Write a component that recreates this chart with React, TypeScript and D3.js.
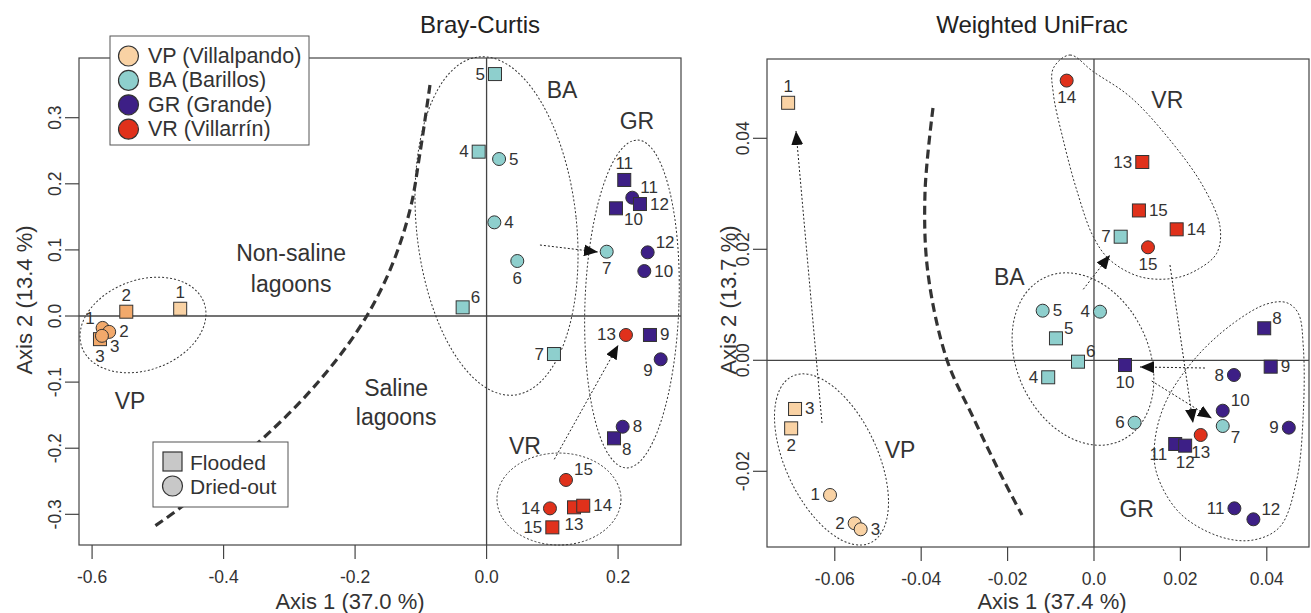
import React from "react";
import * as d3 from "d3";

const W = 1311;
const H = 613;
const FONT = "'Liberation Sans', Arial, Helvetica, sans-serif";
const INK = "#333";

const groupCodes = ["VP", "BA", "GR", "VR"];
const groupNames = ["VP (Villalpando)", "BA (Barillos)", "GR (Grande)", "VR (Villarrín)"];
const groupColors = ["#F9D2A4", "#8ECFCD", "#3D1F86", "#E0311B"];
const stateNames = ["Flooded", "Dried-out"];

// Bray-Curtis PCoA scores (sq = flooded, ci = dried-out)
const bcVP = [
  { n: 1, s: "sq", x: -0.466, y: 0.011 },
  { n: 2, s: "sq", x: -0.548, y: 0.0065 },
  { n: 3, s: "sq", x: -0.588, y: -0.035 },
  { n: 1, s: "ci", x: -0.584, y: -0.018 },
  { n: 2, s: "ci", x: -0.574, y: -0.024 },
  { n: 3, s: "ci", x: -0.585, y: -0.03 },
];
const bcBA = [
  { n: 5, s: "sq", x: 0.0128, y: 0.366 },
  { n: 4, s: "sq", x: -0.012, y: 0.2486 },
  { n: 6, s: "sq", x: -0.0364, y: 0.0131 },
  { n: 7, s: "sq", x: 0.1025, y: -0.0575 },
  { n: 5, s: "ci", x: 0.019, y: 0.2375 },
  { n: 4, s: "ci", x: 0.0118, y: 0.1417 },
  { n: 6, s: "ci", x: 0.0467, y: 0.0832 },
  { n: 7, s: "ci", x: 0.1827, y: 0.0973 },
];
const bcGR = [
  { n: 11, s: "sq", x: 0.2094, y: 0.2058 },
  { n: 10, s: "sq", x: 0.1968, y: 0.1629 },
  { n: 9, s: "sq", x: 0.2485, y: -0.0287 },
  { n: 8, s: "sq", x: 0.1938, y: -0.185 },
  { n: 11, s: "ci", x: 0.2216, y: 0.179 },
  { n: 12, s: "ci", x: 0.245, y: 0.0963 },
  { n: 10, s: "ci", x: 0.2399, y: 0.068 },
  { n: 9, s: "ci", x: 0.2648, y: -0.0655 },
  { n: 8, s: "ci", x: 0.207, y: -0.1675 },
  { n: 12, s: "sq", x: 0.2333, y: 0.1694 },
];
const bcVR = [
  { n: 13, s: "sq", x: 0.133, y: -0.2894 },
  { n: 14, s: "sq", x: 0.147, y: -0.287 },
  { n: 15, s: "sq", x: 0.1, y: -0.3197 },
  { n: 13, s: "ci", x: 0.212, y: -0.0287 },
  { n: 15, s: "ci", x: 0.1208, y: -0.248 },
  { n: 14, s: "ci", x: 0.0964, y: -0.291 },
];

// Weighted UniFrac PCoA scores
const wuVP = [
  { n: 1, s: "sq", x: -0.0708, y: 0.0464 },
  { n: 2, s: "sq", x: -0.0701, y: -0.01226 },
  { n: 3, s: "sq", x: -0.0692, y: -0.00877 },
  { n: 1, s: "ci", x: -0.0611, y: -0.02427 },
  { n: 2, s: "ci", x: -0.0554, y: -0.02937 },
  { n: 3, s: "ci", x: -0.054, y: -0.03045 },
];
const wuBA = [
  { n: 4, s: "sq", x: -0.0106, y: -0.00306 },
  { n: 5, s: "sq", x: -0.0088, y: 0.00396 },
  { n: 6, s: "sq", x: -0.0037, y: -0.00025 },
  { n: 7, s: "sq", x: 0.00618, y: 0.02227 },
  { n: 4, s: "ci", x: 0.00139, y: 0.00876 },
  { n: 5, s: "ci", x: -0.01188, y: 0.00894 },
  { n: 6, s: "ci", x: 0.0094, y: -0.01124 },
  { n: 7, s: "ci", x: 0.0298, y: -0.01184 },
];
const wuGR = [
  { n: 8, s: "sq", x: 0.0394, y: 0.00577 },
  { n: 9, s: "sq", x: 0.0409, y: -0.00115 },
  { n: 10, s: "sq", x: 0.00718, y: -0.00085 },
  { n: 11, s: "sq", x: 0.0188, y: -0.01508 },
  { n: 12, s: "sq", x: 0.0211, y: -0.01538 },
  { n: 8, s: "ci", x: 0.0324, y: -0.00265 },
  { n: 9, s: "ci", x: 0.0451, y: -0.01214 },
  { n: 10, s: "ci", x: 0.0298, y: -0.00908 },
  { n: 11, s: "ci", x: 0.0325, y: -0.02667 },
  { n: 12, s: "ci", x: 0.0369, y: -0.02865 },
];
const wuVR = [
  { n: 13, s: "sq", x: 0.01118, y: 0.03573 },
  { n: 14, s: "sq", x: 0.01914, y: 0.0236 },
  { n: 15, s: "sq", x: 0.0104, y: 0.027 },
  { n: 13, s: "ci", x: 0.0247, y: -0.01346 },
  { n: 14, s: "ci", x: -0.00632, y: 0.0504 },
  { n: 15, s: "ci", x: 0.0125, y: 0.02036 },
];

// tick values and labels
const bcXTicks = [-0.6, -0.4, -0.2, 0, 0.2];
const bcXLabels = ["-0.6", "-0.4", "-0.2", "0.0", "0.2"];
const bcYTicks = [-0.3, -0.2, -0.1, 0, 0.1, 0.2, 0.3];
const bcYLabels = ["-0.3", "-0.2", "-0.1", "0.0", "0.1", "0.2", "0.3"];
const wuXTicks = [-0.06, -0.04, -0.02, 0, 0.02, 0.04];
const wuXLabels = ["-0.06", "-0.04", "-0.02", "0.0", "0.02", "0.04"];
const wuYTicks = [-0.02, 0, 0.02, 0.04];
const wuYLabels = ["-0.02", "0.00", "0.02", "0.04"];

// where each sample number sits next to its marker
const bcLabelPos: Record<string, string> = {
  VPsq1: "t", VPsq2: "t", VPsq3: "b", VPci1: "tl", VPci2: "r", VPci3: "br",
  BAsq5: "l", BAsq4: "l", BAsq6: "tr", BAsq7: "l", BAci5: "r", BAci4: "r", BAci6: "b", BAci7: "b",
  GRsq11: "t", GRsq10: "br", GRsq9: "r", GRsq8: "br", GRsq12: "r", GRci11: "tr", GRci12: "tr",
  GRci10: "r", GRci9: "bl", GRci8: "r",
  VRsq13: "b", VRsq14: "r", VRsq15: "l", VRci13: "l", VRci15: "tr", VRci14: "l",
};
const wuLabelPos: Record<string, string> = {
  VPsq1: "t", VPsq2: "b", VPsq3: "r", VPci1: "l", VPci2: "l", VPci3: "r",
  BAsq4: "l", BAsq5: "tr", BAsq6: "tr", BAsq7: "l", BAci4: "l", BAci5: "r", BAci6: "l", BAci7: "br",
  GRsq8: "tr", GRsq9: "r", GRsq10: "b", GRsq11: "bl", GRsq12: "b", GRci8: "l", GRci9: "l",
  GRci10: "tr", GRci11: "l", GRci12: "tr",
  VRsq13: "l", VRsq14: "r", VRsq15: "r", VRci13: "b", VRci14: "b", VRci15: "b",
};
// the Bray-Curtis VP samples are drawn in a darker orange except flooded 1
const bcFill: Record<string, string> = {
  VPsq2: "#F2A96B", VPsq3: "#F2A96B", VPci1: "#F2A96B", VPci2: "#F2A96B", VPci3: "#F2A96B",
};

// annotations (data coordinates)
const bcEllipses = [
  { cx: -0.5226, cy: -0.0136, rx: 65, ry: 45, a: -20 },
  { cx: 0.0151, cy: 0.1362, rx: 80, ry: 170, a: -6 },
  { cx: 0.2211, cy: 0.0182, rx: 47, ry: 164, a: 2 },
  { cx: 0.1101, cy: -0.2769, rx: 62, ry: 46, a: 0 },
];
const wuEllipses = [
  { cx: -0.06076, cy: -0.01787, rx: 46, ry: 92, a: -25 },
  { cx: -0.00255, cy: 0.00023, rx: 66, ry: 90, a: -25 },
];
const wuHullVR: [number, number][] = [
  [-0.00942, 0.05261], [-0.00556, 0.05501], [-0.00016, 0.052], [0.00833, 0.0475], [0.01759, 0.03969],
  [0.0253, 0.03128], [0.02917, 0.02407], [0.0284, 0.01928], [0.02377, 0.01627], [0.01836, 0.01477],
  [0.01065, 0.01506], [0.0037, 0.01807], [-0.00016, 0.02227], [-0.004, 0.03068], [-0.00711, 0.03969],
  [-0.00942, 0.04811],
];
const wuHullGR: [number, number][] = [
  [0.04461, 0.01038], [0.04729, 0.00847], [0.04845, 0.00245], [0.04845, -0.00955], [0.04692, -0.02157],
  [0.04306, -0.02998], [0.03688, -0.03238], [0.02917, -0.03178], [0.01991, -0.02757], [0.01451, -0.02036],
  [0.01412, -0.01436], [0.01683, -0.00715], [0.02377, 0.00065], [0.03225, 0.00667], [0.03998, 0.01014],
];
const bcDivide: [number, number][] = [
  [-0.0861, 0.3495], [-0.1013, 0.2466], [-0.1165, 0.1604], [-0.1469, 0.0696], [-0.1926, -0.0166],
  [-0.264, -0.1089], [-0.3446, -0.1891], [-0.4663, -0.2905], [-0.5089, -0.3207],
];
const wuDivide: [number, number][] = [
  [-0.03727, 0.04546], [-0.03912, 0.03014], [-0.03843, 0.0157], [-0.03403, 0.00005],
  [-0.02801, -0.01022], [-0.02176, -0.02031], [-0.01667, -0.02788],
];
const bcArrows = [
  [0.0812, 0.1074, 0.1694, 0.0968],
  [0.103, -0.2168, 0.2003, -0.0439],
];
const wuArrows = [
  [-0.06296, -0.01129, -0.06898, 0.04132],
  [-0.00248, 0.01279, 0.0037, 0.01897],
  [0.01759, 0.01717, 0.02292, -0.0113],
  [0.02569, -0.00139, 0.01065, -0.0012],
  [0.01336, -0.00373, 0.02725, -0.01045],
];
const bcNotes = [
  { t: "Non-saline", x: -0.2973, y: 0.0953 },
  { t: "lagoons", x: -0.2973, y: 0.0484 },
  { t: "Saline", x: -0.1376, y: -0.1089 },
  { t: "lagoons", x: -0.1376, y: -0.1528 },
  { t: "VP", x: -0.5422, y: -0.1286 },
  { t: "BA", x: 0.1147, y: 0.3419 },
  { t: "GR", x: 0.2287, y: 0.295 },
  { t: "VR", x: 0.0584, y: -0.1967 },
];
const wuNotes = [
  { t: "VR", x: 0.01697, y: 0.0469 },
  { t: "BA", x: -0.0196, y: 0.01506 },
  { t: "VP", x: -0.04491, y: -0.01616 },
  { t: "GR", x: 0.00988, y: -0.02685 },
];

const POS: Record<string, [number, number, string]> = {
  t: [0, -16, "middle"], b: [0, 17, "middle"], l: [-10, 0, "end"], r: [10, 0, "start"],
  tr: [8, -10, "start"], br: [8, 11, "start"], bl: [-8, 11, "end"], tl: [-8, -9, "end"],
};

type Pt = { n: number; s: string; x: number; y: number };

function Panel(props: any) {
  const { box, xDom, yDom, groups, labelPos, fills, ellipses, hulls, divide, arrows, notes,
    xTicks, xLabels, yTicks, yLabels, title, titleX, xTitle, xTitleX, yTitle, yTitleX } = props;
  const x = d3.scaleLinear().domain(xDom).range([box.x0, box.x1]);
  const y = d3.scaleLinear().domain(yDom).range([box.y1, box.y0]);
  const open = d3.line<[number, number]>().x((d) => x(d[0])).y((d) => y(d[1])).curve(d3.curveCatmullRom);
  const closed = d3.line<[number, number]>().x((d) => x(d[0])).y((d) => y(d[1])).curve(d3.curveCatmullRomClosed);
  const r = 6.5;

  return (
    <g fontFamily={FONT} fill={INK}>
      <text x={titleX} y={24} fontSize={24} textAnchor="middle" dominantBaseline="central" fill="#222">{title}</text>
      <rect x={box.x0} y={box.y0} width={box.x1 - box.x0} height={box.y1 - box.y0} fill="none" stroke="#444" strokeWidth={1.2} />
      <line x1={box.x0} x2={box.x1} y1={y(0)} y2={y(0)} stroke="#444" strokeWidth={1.3} />
      <line x1={x(0)} x2={x(0)} y1={box.y0} y2={box.y1} stroke="#444" strokeWidth={1.3} />

      {xTicks.map((t: number, i: number) => (
        <g key={"xt" + i}>
          <line x1={x(t)} x2={x(t)} y1={box.y1} y2={box.y1 + 14} stroke="#444" strokeWidth={1.2} />
          <text x={x(t)} y={box.y1 + 32} fontSize={17.5} textAnchor="middle" dominantBaseline="central">{xLabels[i]}</text>
        </g>
      ))}
      {yTicks.map((t: number, i: number) => (
        <g key={"yt" + i}>
          <line x1={box.x0 - 14} x2={box.x0} y1={y(t)} y2={y(t)} stroke="#444" strokeWidth={1.2} />
          <text transform={`translate(${box.x0 - 24},${y(t)}) rotate(-90)`} fontSize={17.5} textAnchor="middle" dominantBaseline="central">{yLabels[i]}</text>
        </g>
      ))}
      <text x={xTitleX} y={601} fontSize={22} textAnchor="middle" dominantBaseline="central">{xTitle}</text>
      <text transform={`translate(${yTitleX},300) rotate(-90)`} fontSize={22} textAnchor="middle" dominantBaseline="central">{yTitle}</text>

      {ellipses.map((e: any, i: number) => (
        <ellipse key={"el" + i} cx={x(e.cx)} cy={y(e.cy)} rx={e.rx} ry={e.ry}
          transform={`rotate(${e.a} ${x(e.cx)} ${y(e.cy)})`}
          fill="none" stroke="#333" strokeWidth={1} strokeDasharray="2,2" />
      ))}
      {hulls.map((h: [number, number][], i: number) => (
        <path key={"hu" + i} d={closed(h) || ""} fill="none" stroke="#333" strokeWidth={1} strokeDasharray="2,2" />
      ))}
      <path d={open(divide) || ""} fill="none" stroke="#333" strokeWidth={3.2} strokeDasharray="9,5" />
      {arrows.map((a: number[], i: number) => (
        <line key={"ar" + i} x1={x(a[0])} y1={y(a[1])} x2={x(a[2])} y2={y(a[3])}
          stroke="#222" strokeWidth={1} strokeDasharray="2,2" markerEnd="url(#ah)" />
      ))}

      {groups.map((pts: Pt[], gi: number) =>
        pts.map((p: Pt) => {
          const key = groupCodes[gi] + p.s + p.n;
          const fill = fills[key] || groupColors[gi];
          const cx = x(p.x);
          const cy = y(p.y);
          return p.s === "sq" ? (
            <rect key={key} x={cx - r} y={cy - r} width={2 * r} height={2 * r} fill={fill} stroke="#333" strokeWidth={1} />
          ) : (
            <circle key={key} cx={cx} cy={cy} r={r} fill={fill} stroke="#333" strokeWidth={1} />
          );
        })
      )}
      {groups.map((pts: Pt[], gi: number) =>
        pts.map((p: Pt) => {
          const key = groupCodes[gi] + p.s + p.n;
          const [dx, dy, anchor] = POS[labelPos[key] || "r"];
          return (
            <text key={"lb" + key} x={x(p.x) + dx} y={y(p.y) + dy} fontSize={17}
              textAnchor={anchor} dominantBaseline="central">{p.n}</text>
          );
        })
      )}
      {notes.map((n: any, i: number) => (
        <text key={"no" + i} x={x(n.x)} y={y(n.y)} fontSize={23} textAnchor="middle" dominantBaseline="central">{n.t}</text>
      ))}
    </g>
  );
}

export default function App() {
  return (
    <svg width={W} height={H} style={{ position: "absolute", left: 0, top: 0, background: "#fff" }}>
      <defs>
        <marker id="ah" viewBox="0 0 14 12" refX={14} refY={6} markerWidth={14} markerHeight={12}
          markerUnits="userSpaceOnUse" orient="auto">
          <path d="M0,0 L14,6 L0,12 Z" fill="#111" />
        </marker>
      </defs>
      <rect width={W} height={H} fill="#fff" />
      <Panel
        box={{ x0: 79, x1: 681, y0: 58, y1: 545 }}
        xDom={[-0.6199, 0.2957]} yDom={[-0.3464, 0.3903]}
        groups={[bcVP, bcBA, bcGR, bcVR]} labelPos={bcLabelPos} fills={bcFill}
        ellipses={bcEllipses} hulls={[]} divide={bcDivide} arrows={bcArrows} notes={bcNotes}
        xTicks={bcXTicks} xLabels={bcXLabels} yTicks={bcYTicks} yLabels={bcYLabels}
        title="Bray-Curtis" titleX={480} xTitle="Axis 1 (37.0 %)" xTitleX={350}
        yTitle="Axis 2 (13.4 %)" yTitleX={24}
      />
      <Panel
        box={{ x0: 767, x1: 1309, y0: 59, y1: 547 }}
        xDom={[-0.07569, 0.04977]} yDom={[-0.03364, 0.05429]}
        groups={[wuVP, wuBA, wuGR, wuVR]} labelPos={wuLabelPos} fills={{}}
        ellipses={wuEllipses} hulls={[wuHullVR, wuHullGR]} divide={wuDivide} arrows={wuArrows} notes={wuNotes}
        xTicks={wuXTicks} xLabels={wuXLabels} yTicks={wuYTicks} yLabels={wuYLabels}
        title="Weighted UniFrac" titleX={1032} xTitle="Axis 1 (37.4 %)" xTitleX={1052}
        yTitle="Axis 2 (13.7 %)" yTitleX={728}
      />

      {/* site legend */}
      <g fontFamily={FONT} fill={INK}>
        <rect x={110} y={36} width={199} height={109} fill="#fff" stroke="#555" strokeWidth={1} />
        {groupNames.map((g, i) => (
          <g key={g}>
            <circle cx={128.5} cy={56 + i * 24.4} r={10} fill={groupColors[i]} stroke="#333" strokeWidth={1.2} />
            <text x={148} y={56 + i * 24.4} fontSize={21.5} dominantBaseline="central">{g}</text>
          </g>
        ))}
        <rect x={153} y={442} width={135} height={65} fill="#fff" stroke="#555" strokeWidth={1} />
        <rect x={163} y={452} width={19} height={19} fill="#C8C8C8" stroke="#333" strokeWidth={1.2} />
        <circle cx={172.5} cy={486} r={10} fill="#C8C8C8" stroke="#333" strokeWidth={1.2} />
        {stateNames.map((s, i) => (
          <text key={s} x={190} y={462 + i * 24} fontSize={21} dominantBaseline="central">{s}</text>
        ))}
      </g>
    </svg>
  );
}
